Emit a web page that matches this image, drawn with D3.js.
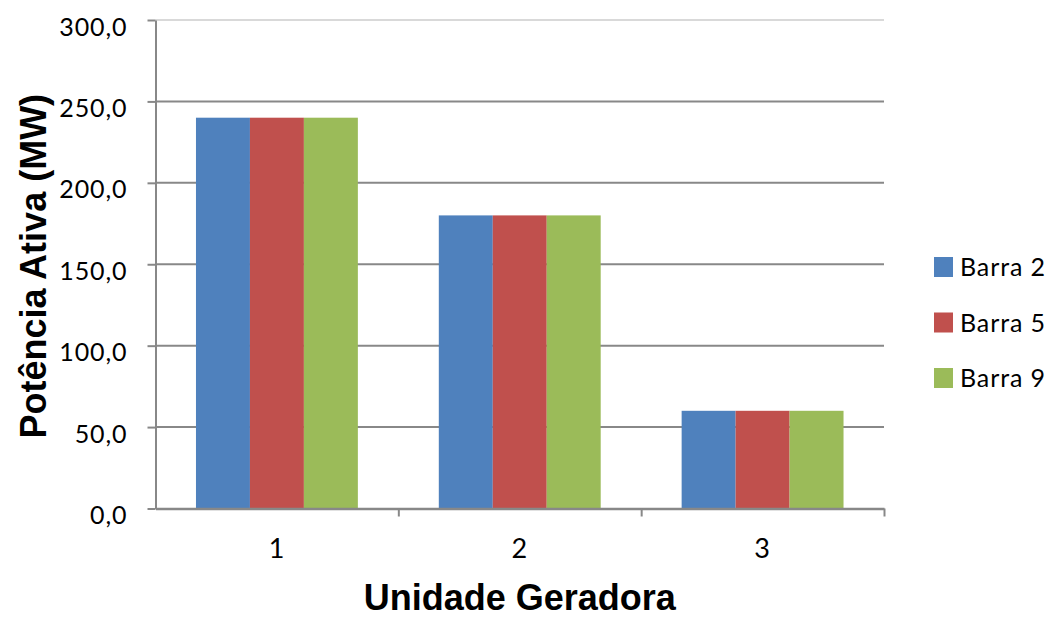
<!DOCTYPE html>
<html>
<head>
<meta charset="utf-8">
<script src="https://cdn.jsdelivr.net/npm/d3@7"></script>
<style>
  body { margin: 0; background: #fff; }
  svg { display: block; }
  .tick-label { font-family: Lato, "Open Sans", sans-serif; font-size: 25px; fill: #000; letter-spacing: 0.9px; }
  .title { font-family: "Liberation Sans", Arial, sans-serif; font-weight: bold; font-size: 36px; fill: #000; }
</style>
</head>
<body>
<svg id="chart"></svg>
<script>
// DATA
const units = ["1", "2", "3"];
const seriesNames = ["Barra 2", "Barra 5", "Barra 9"];
const barra2 = [240, 180, 60];
const barra5 = [240, 180, 60];
const barra9 = [240, 180, 60];
const yTicks = [0, 50, 100, 150, 200, 250, 300];
const colors = ["#4F81BD", "#C0504D", "#9BBB59"];

const width = 1058, height = 619;
const margin = { left: 155.5, right: 174, top: 20, bottom: 110.5 };

const svg = d3.select("#chart")
    .attr("width", width)
    .attr("height", height);

// build rows for drawing
const allSeries = [barra2, barra5, barra9];
const rows = units.map((u, i) => ({
    unit: u,
    values: seriesNames.map((s, j) => ({ name: s, value: allSeries[j][i] }))
}));

/* SCALES */
const xScale = d3.scaleBand()
    .domain(units)
    .range([margin.left, width - margin.right])
    .padding(0);

// Excel gap width ~150% of one bar
const barW = xScale.bandwidth() / 4.5;
const innerScale = d3.scaleBand()
    .domain(seriesNames)
    .range([barW * 0.75, barW * 3.75])
    .padding(0);

const xEdge = d3.scaleLinear()
    .domain([0, units.length])
    .range([margin.left, width - margin.right]);

const yScale = d3.scaleLinear()
    .domain([0, 300])
    .range([height - margin.bottom, margin.top]);

// GRIDLINES
svg.append("g")
    .selectAll("line")
    .data(yTicks.filter(d => d > 0))
    .join("line")
    .attr("x1", margin.left)
    .attr("x2", width - margin.right)
    .attr("y1", d => yScale(d))
    .attr("y2", d => yScale(d))
    .attr("stroke", d => d === 300 ? "#d9d9d9" : "#888")
    .attr("stroke-width", 2);

// BARS
svg.append("g")
    .selectAll("g")
    .data(rows)
    .join("g")
    .attr("transform", d => `translate(${xScale(d.unit)},0)`)
    .selectAll("rect")
    .data(d => d.values)
    .join("rect")
    .attr("x", d => innerScale(d.name))
    .attr("width", innerScale.bandwidth())
    .attr("y", d => yScale(d.value))
    .attr("height", d => yScale(0) - yScale(d.value))
    .attr("fill", (d, i) => colors[i]);

// Y AXIS
const yAxisGroup = svg.append("g")
    .attr("transform", `translate(${margin.left},0)`)
    .call(d3.axisLeft(yScale)
        .tickValues(yTicks)
        .tickSize(8)
        .tickSizeOuter(0)
        .tickPadding(20)
        .tickFormat(d => d.toFixed(1).replace(".", ",")));

yAxisGroup.select(".domain").attr("stroke", "#888").attr("stroke-width", 2);
yAxisGroup.selectAll(".tick line").attr("stroke", "#888").attr("stroke-width", 2);
yAxisGroup.selectAll(".tick text")
    .attr("class", "tick-label")
    .attr("font-family", null)
    .attr("font-size", null)
    .attr("dy", "0.6em");

// X AXIS: boundary ticks
const xAxisGroup = svg.append("g")
    .attr("transform", `translate(0,${yScale(0)})`)
    .call(d3.axisBottom(xEdge)
        .tickValues([1, 2, 3])
        .tickSize(8)
        .tickSizeOuter(0)
        .tickFormat(""));

xAxisGroup.select(".domain").attr("stroke", "#888").attr("stroke-width", 2.5);
xAxisGroup.selectAll(".tick line").attr("stroke", "#888").attr("stroke-width", 2);

// X category labels
const xLabelGroup = svg.append("g")
    .attr("transform", `translate(0,${yScale(0)})`)
    .call(d3.axisBottom(xScale).tickSize(0).tickPadding(30));
xLabelGroup.select(".domain").remove();
xLabelGroup.selectAll(".tick text")
    .attr("class", "tick-label")
    .attr("font-family", null)
    .attr("font-size", null)
    .style("font-size", "27px");

// AXIS TITLES
svg.append("text")
    .attr("class", "title")
    .attr("x", (margin.left + width - margin.right) / 2)
    .attr("y", 610)
    .attr("text-anchor", "middle")
    .text("Unidade Geradora");

svg.append("text")
    .attr("class", "title")
    .attr("transform", `translate(46, ${(margin.top + height - margin.bottom) / 2 + 2}) rotate(-90)`)
    .attr("text-anchor", "middle")
    .text("Potência Ativa (MW)");

// LEGEND
const legend = svg.append("g")
    .attr("transform", "translate(934, 257)")
    .selectAll("g")
    .data(seriesNames)
    .join("g")
    .attr("transform", (d, i) => `translate(0, ${i * 55.5})`);

legend.append("rect")
    .attr("width", 19)
    .attr("height", 20)
    .attr("fill", (d, i) => colors[i]);

legend.append("text")
    .attr("class", "tick-label")
    .attr("x", 26)
    .attr("y", 19)
    .text(d => d);
</script>
</body>
</html>
